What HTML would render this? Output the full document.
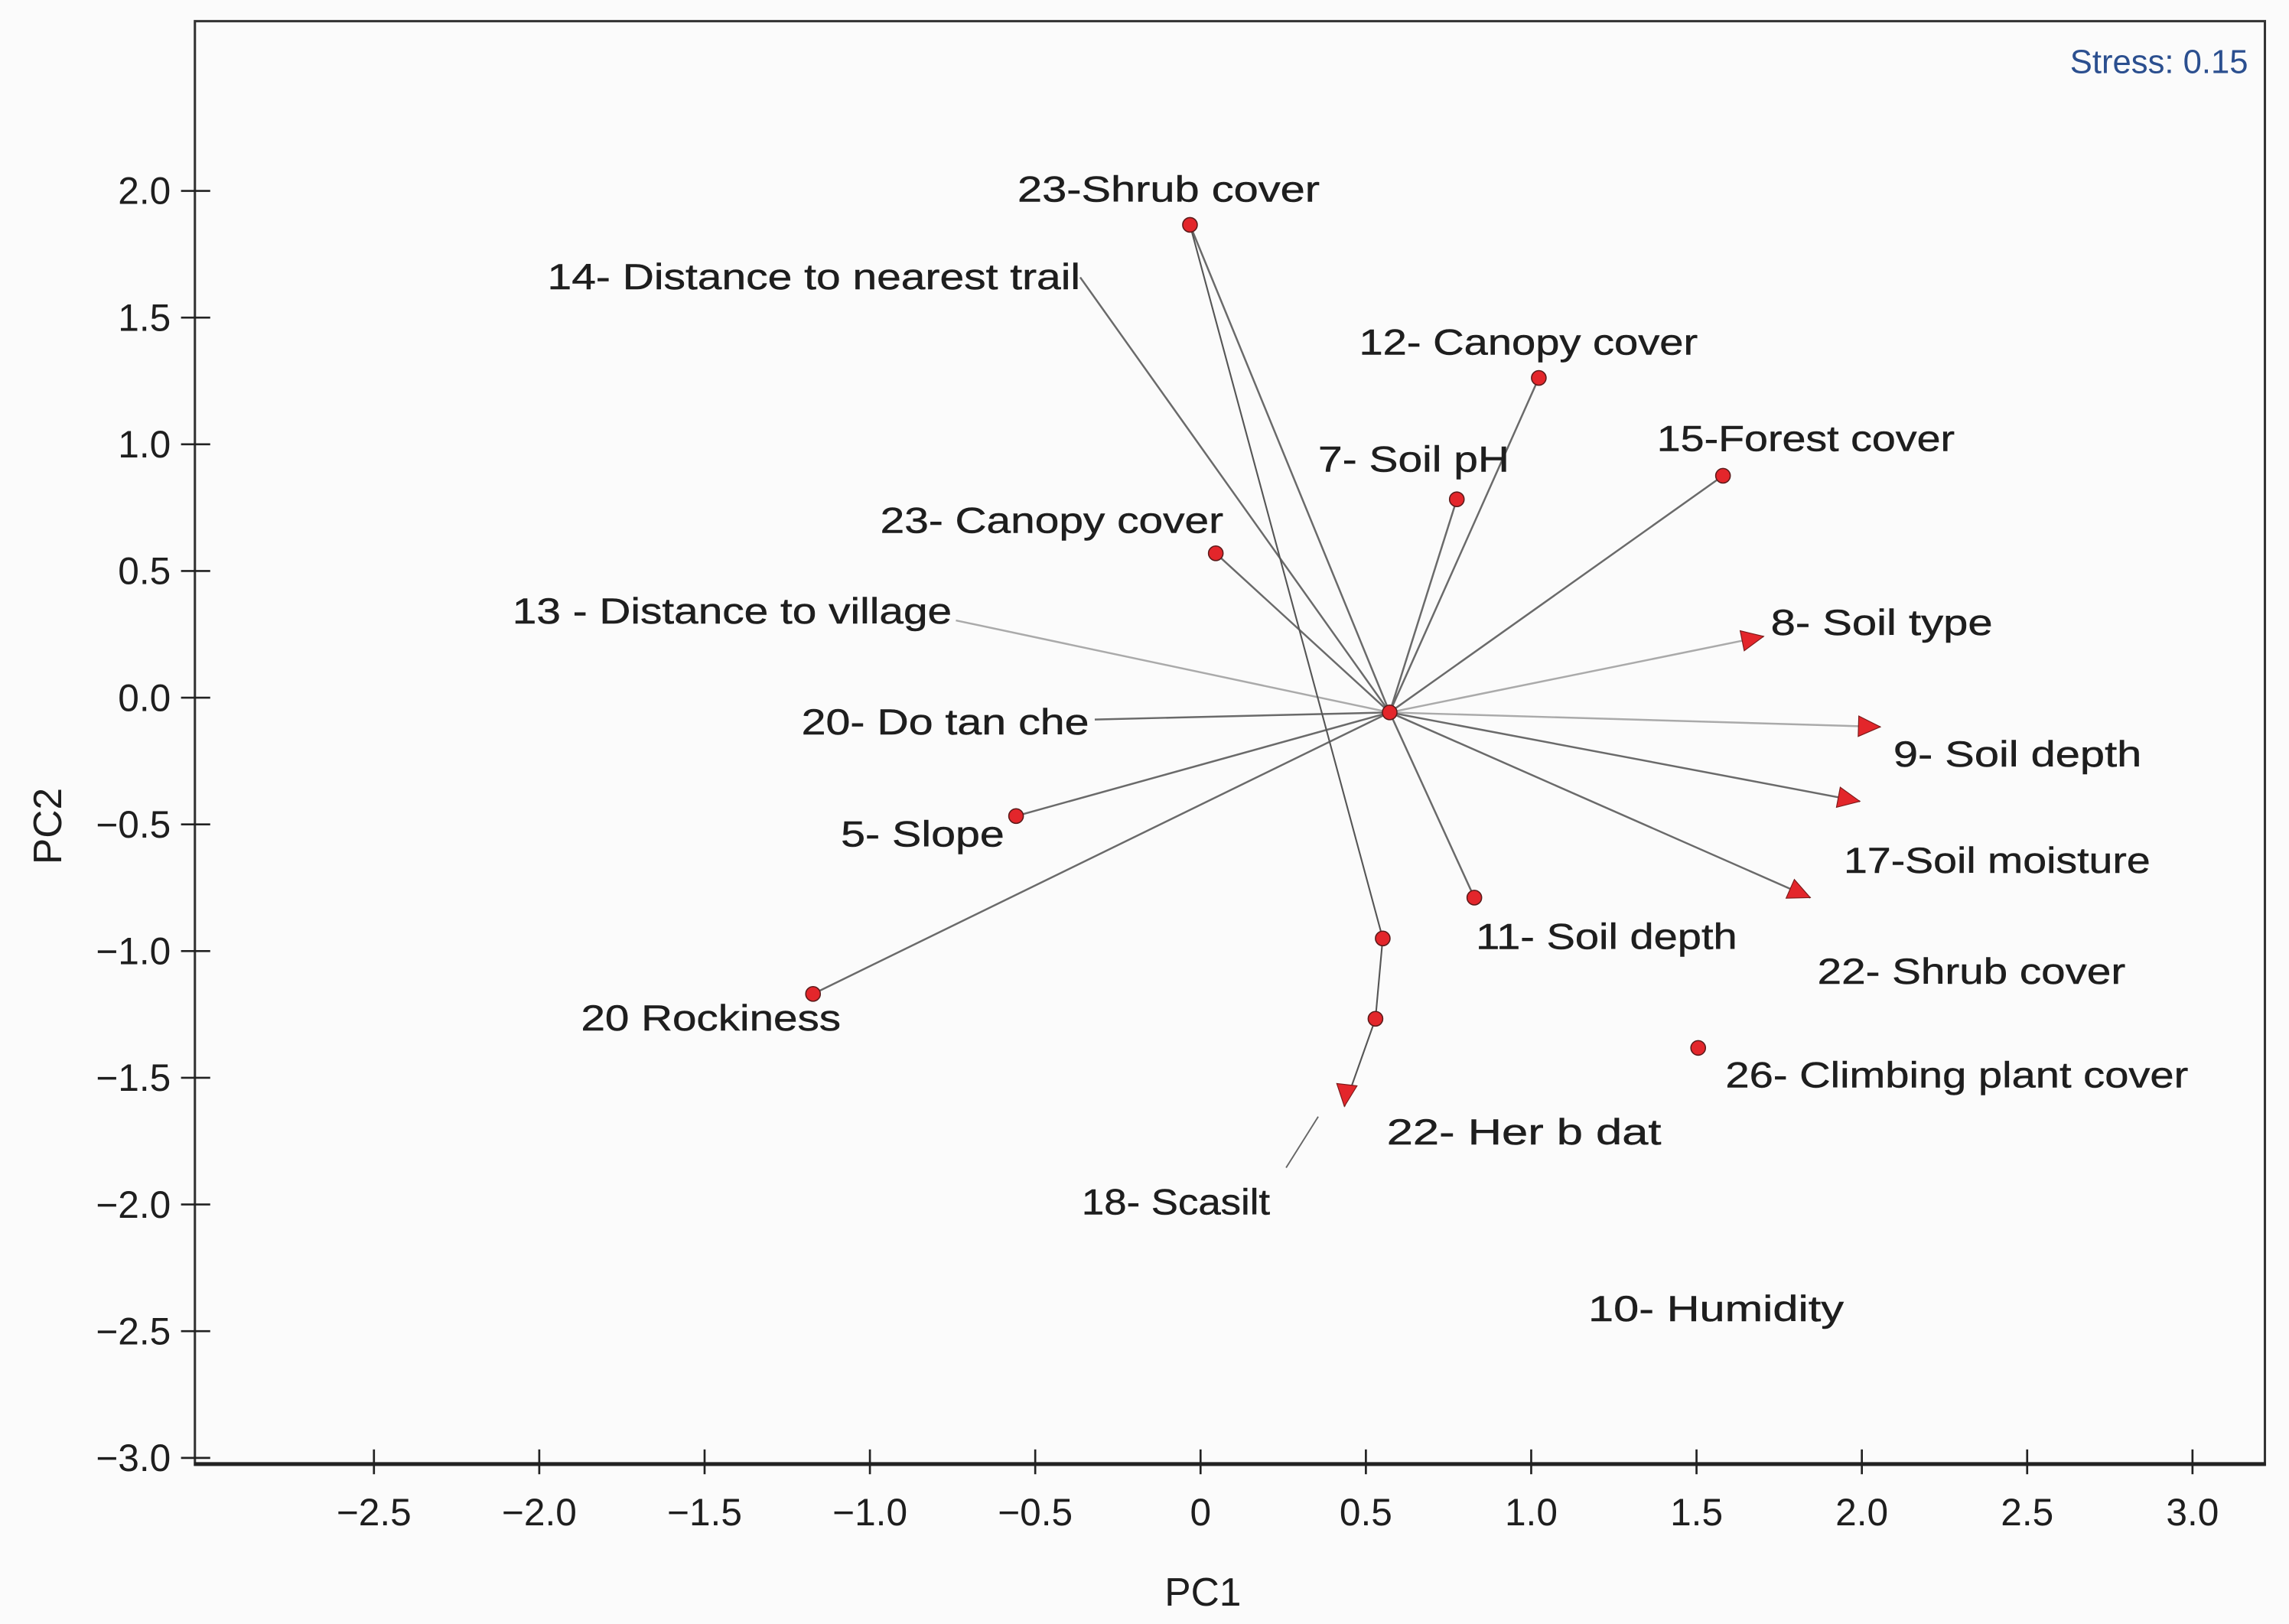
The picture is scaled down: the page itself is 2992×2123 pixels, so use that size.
<!DOCTYPE html>
<html><head><meta charset="utf-8"><title>PCA biplot</title>
<style>html,body{margin:0;padding:0;background:#fbfbfb}svg{display:block}text{font-family:"Liberation Sans",sans-serif;fill:#1e1e1e}</style>
</head><body>
<svg id="chart" width="2992" height="2123" viewBox="0 0 1568 1112.6" xmlns="http://www.w3.org/2000/svg">
<rect x="0" y="0" width="1568" height="1112.6" fill="#fbfbfb"/>
<rect x="133.5" y="14.5" width="1418" height="989" fill="#fbfbfb" stroke="#333" stroke-width="1.6"/>
<line x1="133" y1="1003" x2="1552" y2="1003" stroke="#222" stroke-width="2.6"/>
<text x="1540" y="50" text-anchor="end" font-size="23" style="fill:#2b4f8f" textLength="122" lengthAdjust="spacingAndGlyphs">Stress: 0.15</text>
<text x="824" y="1100" text-anchor="middle" font-size="27">PC1</text>
<text transform="translate(42,566) rotate(-90)" text-anchor="middle" font-size="27">PC2</text>
<g id="axes"></g><g id="lines"></g><g id="marks"></g><g id="labels"></g>
</svg>
<script>
// ----- data -----
const xTicks = [-2.5,-2.0,-1.5,-1.0,-0.5,0,0.5,1.0,1.5,2.0,2.5,3.0];
const xTickLabels = ["\u22122.5","\u22122.0","\u22121.5","\u22121.0","\u22120.5","0","0.5","1.0","1.5","2.0","2.5","3.0"];
const yTicks = [2.0,1.5,1.0,0.5,0.0,-0.5,-1.0,-1.5,-2.0,-2.5,-3.0];
const yTickLabels = ["2.0","1.5","1.0","0.5","0.0","\u22120.5","\u22121.0","\u22121.5","\u22122.0","\u22122.5","\u22123.0"];
const origin = [0.572, -0.058];
const varNames = ["23-Shrub cover","14- Distance to nearest trail","12- Canopy cover","7- Soil pH","15-Forest cover","23- Canopy cover","13 - Distance to village","8- Soil type","20- Do tan che","9- Soil depth","17-Soil moisture","22- Shrub cover","5- Slope","20 Rockiness","11- Soil depth","26- Climbing plant cover","22- Her b dat","18- Scasilt","10- Humidity"];
const pc1 = [-0.032,-0.364,1.023,0.775,1.580,0.046,-0.740,1.703,-0.320,2.056,1.994,1.844,-0.558,-1.172,0.828,1.505,0.435,0.35,1.45];
const pc2 = [1.866,1.659,1.262,0.783,0.876,0.570,0.305,0.242,-0.086,-0.115,-0.409,-0.789,-0.467,-1.169,-0.789,-1.382,-1.613,-1.75,-2.4];
const markType = ["circle","none","circle","circle","circle","circle","none","arrow","none","arrow","arrow","arrow","circle","circle","circle","circle","arrow","none","none"];
const hasVector = [true,true,true,true,true,true,true,true,true,true,true,true,true,true,true,false,false,false,false];
const chainPC1 = [-0.032,0.551,0.529,0.435];
const chainPC2 = [1.866,-0.950,-1.267,-1.613];
// label layout (pixel offsets, not data)
const labelPos = [[697,138,207],[375,198,365],[931,243,232],[903,323,131],[1135,309,204],[603,365,235],[351,427,301],[1213,435,152],[549,503,197],[1297,525,170],[1263,598,210],[1245,674,211],[576,580,112],[398,706,178],[1011,650,179],[1182,745,317],[950,784,188],[741,832,129],[1088,905,175]];

const NS="http://www.w3.org/2000/svg";
const sx = v => 822.4 + v*226.5;
const sy = v => 478 - v*173.6;
function mk(tag, attrs, parent){const e=document.createElementNS(NS,tag);for(const k in attrs)e.setAttribute(k,attrs[k]);document.getElementById(parent).appendChild(e);return e;}

xTicks.forEach((t,i)=>{
  const l=mk('line',{x1:sx(t),x2:sx(t),y1:993,y2:1010,stroke:'#222','stroke-width':1.4},'axes');
  
  
  const tx=mk('text',{x:sx(t),y:1045,'text-anchor':'middle','font-size':26},'axes');
  
  
  tx.textContent=xTickLabels[i];
});
yTicks.forEach((t,i)=>{
  const l=mk('line',{x1:124,x2:144,y1:sy(t),y2:sy(t),stroke:'#222','stroke-width':1.4},'axes');
  
  
  const tx=mk('text',{x:117,y:sy(t)+9,'text-anchor':'end','font-size':26},'axes');
  
  
  tx.textContent=yTickLabels[i];
});

varNames.forEach((n,i)=>{
  if(hasVector[i]){
    const light = (i===6||i===7||i===9);
    const l=mk('line',{x1:sx(origin[0]),y1:sy(origin[1]),x2:sx(pc1[i]),y2:sy(pc2[i]),stroke:light?'#aaa':'#6a6a6a','stroke-width':1.3},'lines');
    
    
  }
});
for(let i=0;i<chainPC1.length-1;i++){
  const l=mk('line',{x1:sx(chainPC1[i]),y1:sy(chainPC2[i]),x2:sx(chainPC1[i+1]),y2:sy(chainPC2[i+1]),stroke:'#555','stroke-width':1.1},'lines');
  
  
}
const sc=mk('line',{x1:903,y1:765,x2:881,y2:800,stroke:'#666','stroke-width':1},'lines');



function circle(x,y){const c=mk('circle',{cx:x,cy:y,r:5,fill:'#e3262b',stroke:'#5a1a1a','stroke-width':0.8},'marks');return c;}
varNames.forEach((n,i)=>{
  const x=sx(pc1[i]), y=sy(pc2[i]);
  if(markType[i]==='circle'){
    const c=circle(x,y);
    
    
  } else if(markType[i]==='arrow'){
    const ang=Math.atan2(y-sy(origin[1]),x-sx(origin[0]));
    const L=15,W=7;
    const bx=x-L*Math.cos(ang), by=y-L*Math.sin(ang);
    const px=-Math.sin(ang)*W, py=Math.cos(ang)*W;
    const p=mk('polygon',{points:`${x},${y} ${bx+px},${by+py} ${bx-px},${by-py}`,fill:'#e3262b',stroke:'#7a1a1a','stroke-width':0.6},'marks');
    
    
  }
});
for(let i=1;i<chainPC1.length-1;i++){
  const c=circle(sx(chainPC1[i]),sy(chainPC2[i]));
  
  
}
const c0=circle(sx(origin[0]),sy(origin[1]));



varNames.forEach((n,i)=>{
  const p=labelPos[i];
  const t=mk('text',{x:p[0],y:p[1],'font-size':25,textLength:p[2],lengthAdjust:'spacingAndGlyphs',stroke:'#1e1e1e','stroke-width':0.25},'labels');
  
  
  t.textContent=n;
});
</script>
</body></html>
